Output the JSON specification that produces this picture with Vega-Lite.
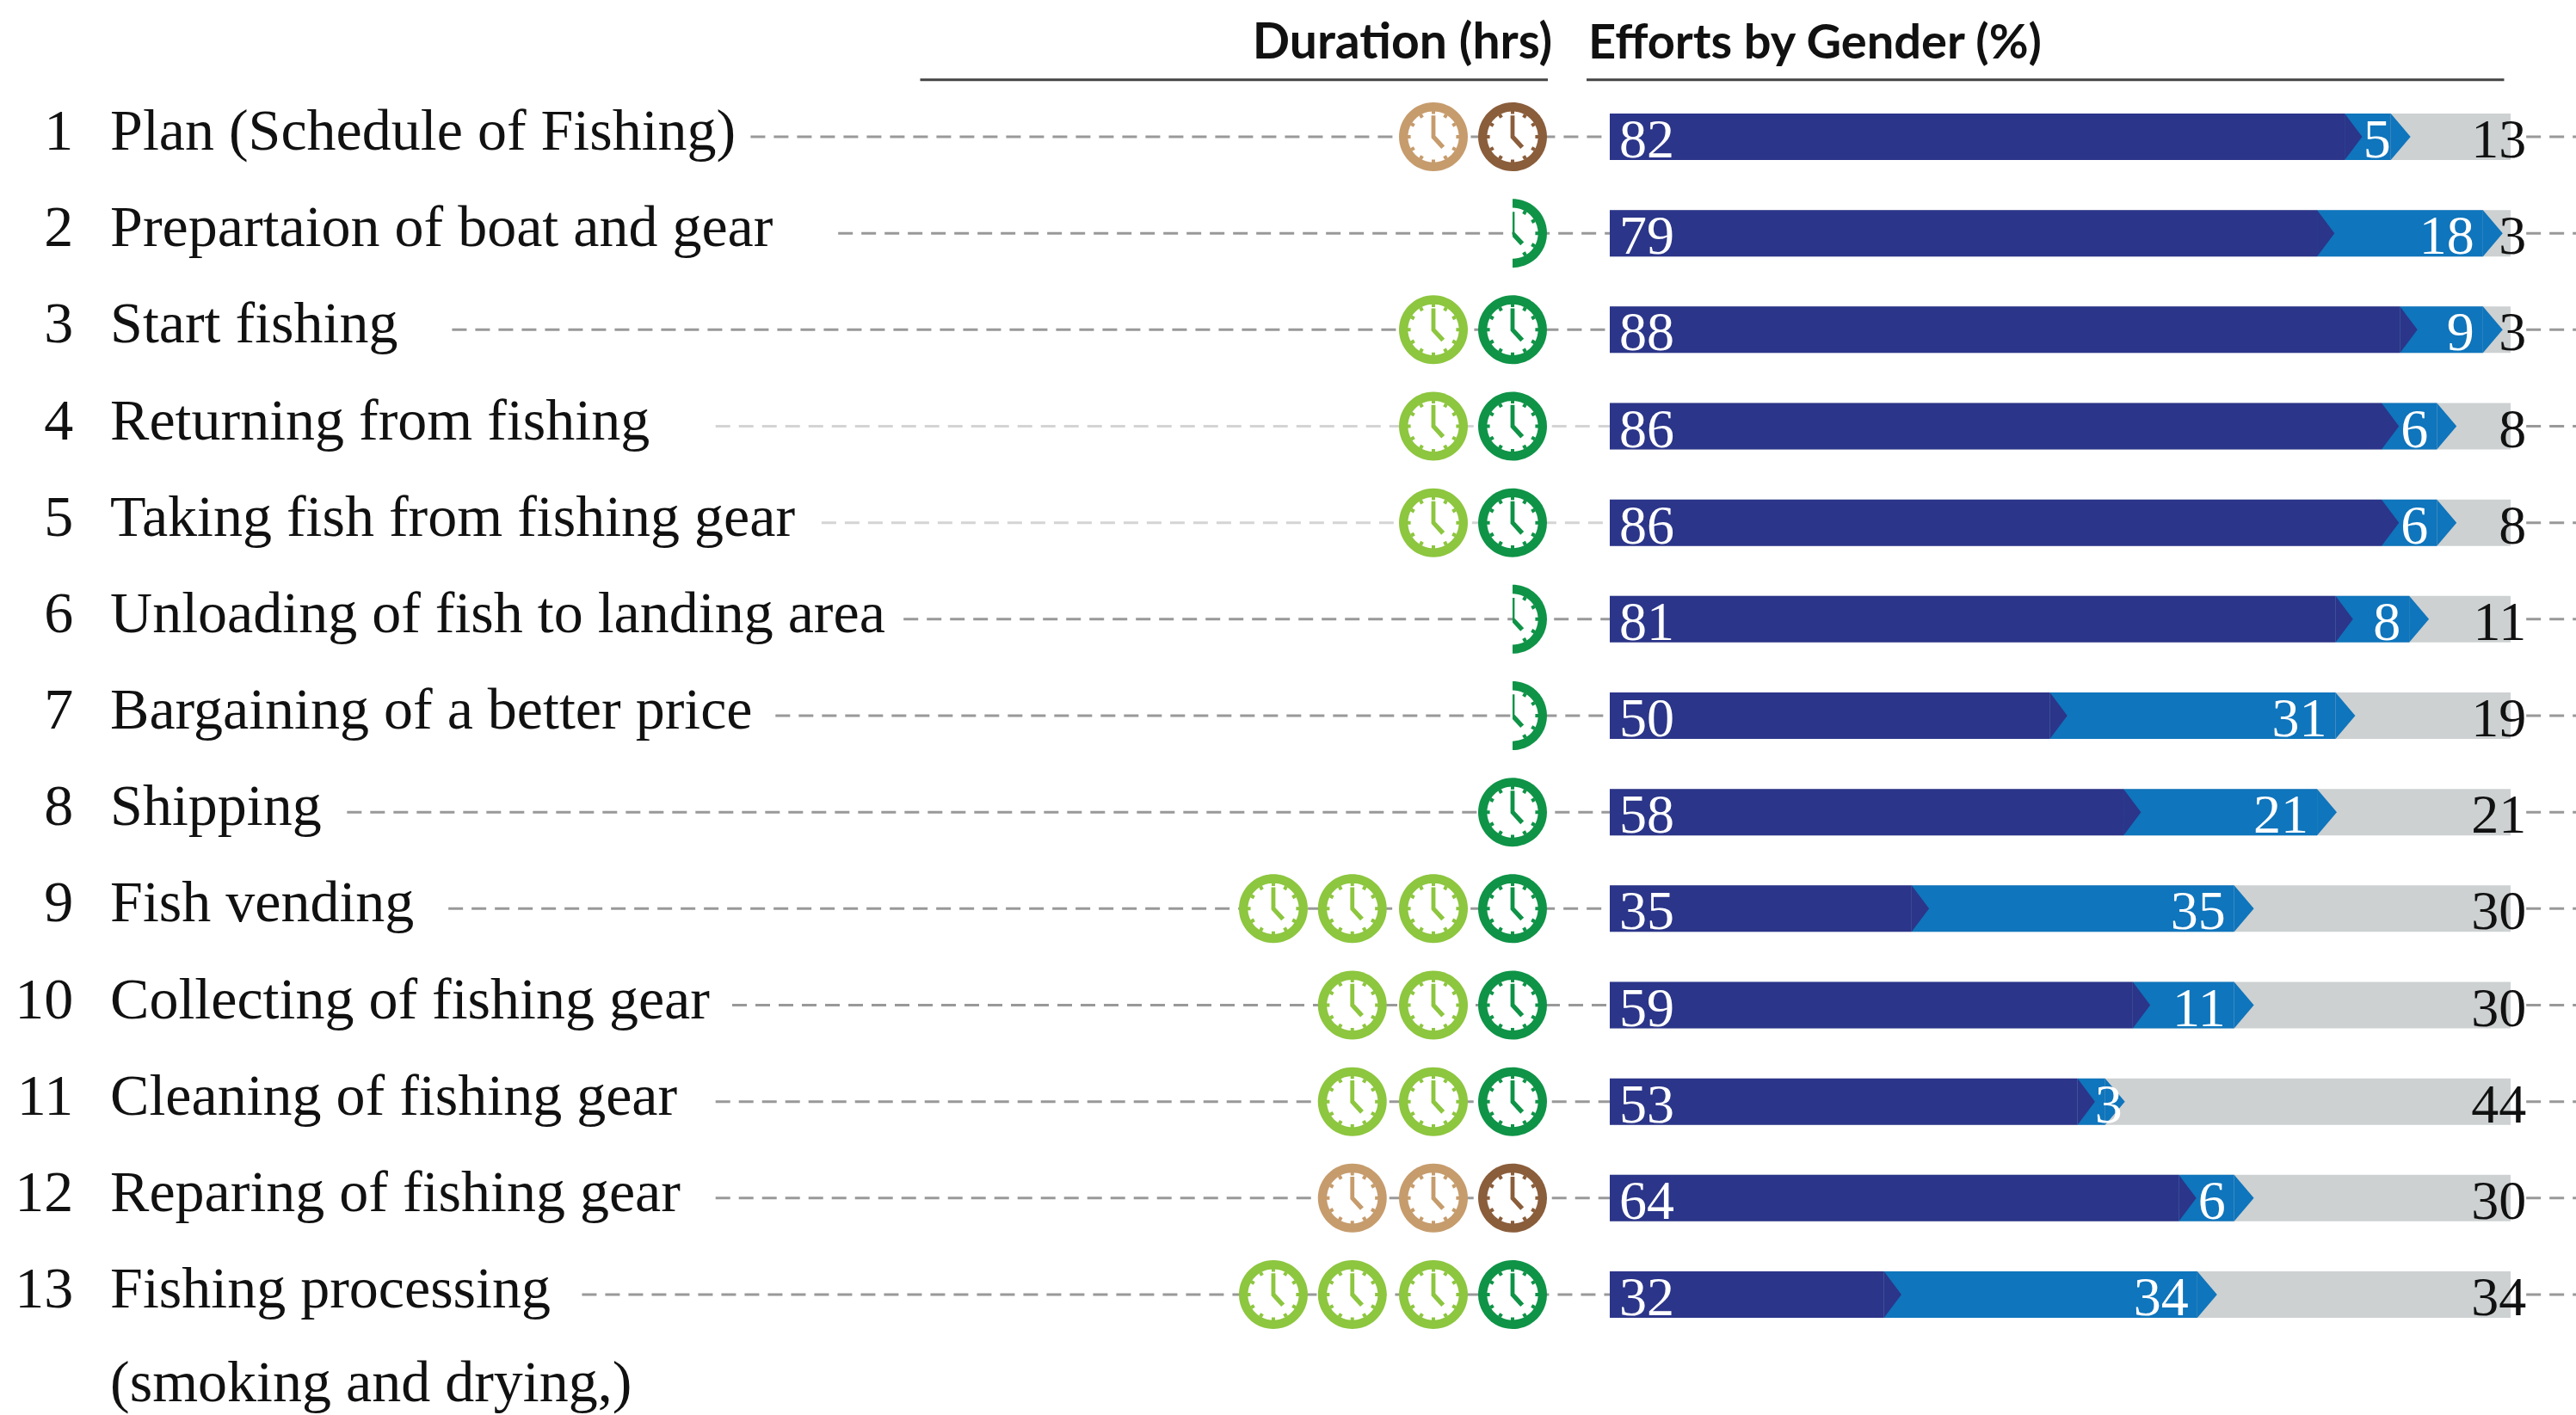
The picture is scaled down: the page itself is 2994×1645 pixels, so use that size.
{"$schema":"https://vega.github.io/schema/vega-lite/v6.json","width":2994,"height":1645,"padding":0,"autosize":"none","background":"white","config":{"view":{"stroke":null}},
"datasets":{
"rows":[
{"row":1,"num":"1","label":"Plan (Schedule of Fishing)","lead":-91.0,"start":2.24,"g1":82,"g2":5,"g3":13,"g2end":87,"total":100,"tail":101.7,"edge":107.2},
{"row":2,"num":"2","label":"Prepartaion of boat and gear","lead":-81.5,"start":2.24,"g1":79,"g2":18,"g3":3,"g2end":97,"total":100,"tail":101.7,"edge":107.2},
{"row":3,"num":"3","label":"Start fishing","lead":-123.4,"start":2.24,"g1":88,"g2":9,"g3":3,"g2end":97,"total":100,"tail":101.7,"edge":107.2},
{"row":4,"num":"4","label":"Returning from fishing","lead":-94.8,"start":2.24,"g1":86,"g2":6,"g3":8,"g2end":92,"total":100,"tail":101.7,"edge":107.2},
{"row":5,"num":"5","label":"Taking fish from fishing gear","lead":-83.3,"start":2.24,"g1":86,"g2":6,"g3":8,"g2end":92,"total":100,"tail":101.7,"edge":107.2},
{"row":6,"num":"6","label":"Unloading of fish to landing area","lead":-74.4,"start":2.24,"g1":81,"g2":8,"g3":11,"g2end":89,"total":100,"tail":101.7,"edge":107.2},
{"row":7,"num":"7","label":"Bargaining of a better price","lead":-88.3,"start":2.24,"g1":50,"g2":31,"g3":19,"g2end":81,"total":100,"tail":101.7,"edge":107.2},
{"row":8,"num":"8","label":"Shipping","lead":-134.8,"start":2.24,"g1":58,"g2":21,"g3":21,"g2end":79,"total":100,"tail":101.7,"edge":107.2},
{"row":9,"num":"9","label":"Fish vending","lead":-123.8,"start":2.24,"g1":35,"g2":35,"g3":30,"g2end":70,"total":100,"tail":101.7,"edge":107.2},
{"row":10,"num":"10","label":"Collecting of fishing gear","lead":-93.0,"start":2.24,"g1":59,"g2":11,"g3":30,"g2end":70,"total":100,"tail":101.7,"edge":107.2},
{"row":11,"num":"11","label":"Cleaning of fishing gear","lead":-94.8,"start":2.24,"g1":53,"g2":3,"g3":44,"g2end":56,"total":100,"tail":101.7,"edge":107.2},
{"row":12,"num":"12","label":"Reparing of fishing gear","lead":-94.8,"start":2.24,"g1":64,"g2":6,"g3":30,"g2end":70,"total":100,"tail":101.7,"edge":107.2},
{"row":13,"num":"13","label":"Fishing processing","lead":-109.3,"start":2.24,"g1":32,"g2":34,"g3":34,"g2end":66,"total":100,"tail":101.7,"edge":107.2}
],
"clocks":[
{"row":1,"slot":-8.31,"kind":"brown-dark","part":"full"},{"row":1,"slot":-16.9,"kind":"brown-light","part":"full"},
{"row":2,"slot":-8.31,"kind":"green-dark","part":"half"},
{"row":3,"slot":-8.31,"kind":"green-dark","part":"full"},{"row":3,"slot":-16.9,"kind":"green-light","part":"full"},
{"row":4,"slot":-8.31,"kind":"green-dark","part":"full"},{"row":4,"slot":-16.9,"kind":"green-light","part":"full"},
{"row":5,"slot":-8.31,"kind":"green-dark","part":"full"},{"row":5,"slot":-16.9,"kind":"green-light","part":"full"},
{"row":6,"slot":-8.31,"kind":"green-dark","part":"half"},
{"row":7,"slot":-8.31,"kind":"green-dark","part":"half"},
{"row":8,"slot":-8.31,"kind":"green-dark","part":"full"},
{"row":9,"slot":-8.31,"kind":"green-dark","part":"full"},{"row":9,"slot":-16.9,"kind":"green-light","part":"full"},{"row":9,"slot":-25.7,"kind":"green-light","part":"full"},{"row":9,"slot":-34.27,"kind":"green-light","part":"full"},
{"row":10,"slot":-8.31,"kind":"green-dark","part":"full"},{"row":10,"slot":-16.9,"kind":"green-light","part":"full"},{"row":10,"slot":-25.7,"kind":"green-light","part":"full"},
{"row":11,"slot":-8.31,"kind":"green-dark","part":"full"},{"row":11,"slot":-16.9,"kind":"green-light","part":"full"},{"row":11,"slot":-25.7,"kind":"green-light","part":"full"},
{"row":12,"slot":-8.31,"kind":"brown-dark","part":"full"},{"row":12,"slot":-16.9,"kind":"brown-light","part":"full"},{"row":12,"slot":-25.7,"kind":"brown-light","part":"full"},
{"row":13,"slot":-8.31,"kind":"green-dark","part":"full"},{"row":13,"slot":-16.9,"kind":"green-light","part":"full"},{"row":13,"slot":-25.7,"kind":"green-light","part":"full"},{"row":13,"slot":-34.27,"kind":"green-light","part":"full"}
]},
"encoding":{"y":{"field":"row","type":"quantitative","axis":null,"scale":{"domain":[-0.4175,14.248],"reverse":true,"nice":false,"zero":false,"padding":0}}},
"layer":[
{"data":{"name":"rows"},"transform":[{"filter":"datum.row!=4 && datum.row!=5"}],"mark":{"type":"rule","color":"#999999","strokeWidth":3,"strokeDash":[17,10]},
 "encoding":{"x":{"field":"lead","type":"quantitative","axis":null,"scale":{"domain":[-172.46,107.1],"nice":false,"zero":false,"padding":0}},"x2":{"field":"start"}}},
{"data":{"name":"rows"},"transform":[{"filter":"datum.row==4 || datum.row==5"}],"mark":{"type":"rule","color":"#D4D4D4","strokeWidth":3,"strokeDash":[17,10]},
 "encoding":{"x":{"field":"lead","type":"quantitative"},"x2":{"field":"start"}}},
{"data":{"name":"rows"},"mark":{"type":"rule","color":"#999999","strokeWidth":3,"strokeDash":[17,10]},
 "encoding":{"x":{"field":"tail","type":"quantitative"},"x2":{"field":"edge"}}},
{"data":{"name":"rows"},"mark":{"type":"bar","orient":"horizontal","size":54,"color":"#CDD1D2"},
 "encoding":{"x":{"field":"start","type":"quantitative"},"x2":{"field":"total"}}},
{"data":{"name":"rows"},"mark":{"type":"bar","orient":"horizontal","size":54,"color":"#0F75BC"},
 "encoding":{"x":{"field":"g1","type":"quantitative"},"x2":{"field":"g2end"}}},
{"data":{"name":"rows"},"mark":{"type":"point","filled":true,"opacity":1,"strokeWidth":0,"size":2916,"color":"#0F75BC","shape":"M0,-1L0.85,0L0,1Z"},
 "encoding":{"x":{"field":"g2end","type":"quantitative"}}},
{"data":{"name":"rows"},"mark":{"type":"bar","orient":"horizontal","size":54,"color":"#2B3589"},
 "encoding":{"x":{"field":"start","type":"quantitative"},"x2":{"field":"g1"}}},
{"data":{"name":"rows"},"mark":{"type":"point","filled":true,"opacity":1,"strokeWidth":0,"size":2916,"color":"#2B3589","shape":"M0,-1L0.75,0L0,1Z"},
 "encoding":{"x":{"field":"g1","type":"quantitative"}}},
{"data":{"name":"rows"},"mark":{"type":"text","font":"Liberation Serif","fontSize":64,"color":"white","align":"left","baseline":"alphabetic","dy":24},
 "encoding":{"x":{"datum":3.27,"type":"quantitative"},"text":{"field":"g1","type":"nominal"}}},
{"data":{"name":"rows"},"transform":[{"filter":"datum.row!=1 && datum.row!=11"}],"mark":{"type":"text","font":"Liberation Serif","fontSize":64,"color":"white","align":"right","baseline":"alphabetic","dy":24,"dx":-10},
 "encoding":{"x":{"field":"g2end","type":"quantitative"},"text":{"field":"g2","type":"nominal"}}},
{"data":{"name":"rows"},"transform":[{"filter":"datum.row==1"}],"mark":{"type":"text","font":"Liberation Serif","fontSize":64,"color":"white","align":"right","baseline":"alphabetic","dy":24,"dx":0},
 "encoding":{"x":{"field":"g2end","type":"quantitative"},"text":{"field":"g2","type":"nominal"}}},
{"data":{"name":"rows"},"transform":[{"filter":"datum.row==11"}],"mark":{"type":"text","font":"Liberation Serif","fontSize":64,"color":"white","align":"right","baseline":"alphabetic","dy":24,"dx":20},
 "encoding":{"x":{"field":"g2end","type":"quantitative"},"text":{"field":"g2","type":"nominal"}}},
{"data":{"name":"rows"},"mark":{"type":"text","font":"Liberation Serif","fontSize":64,"color":"#111111","align":"right","baseline":"alphabetic","dy":24},
 "encoding":{"x":{"field":"tail","type":"quantitative"},"text":{"field":"g3","type":"nominal"}}},
{"data":{"name":"rows"},"mark":{"type":"text","font":"Liberation Serif","fontSize":68,"color":"#111111","align":"right","baseline":"alphabetic","dy":15},
 "encoding":{"x":{"datum":-164.5,"type":"quantitative"},"text":{"field":"num","type":"nominal"}}},
{"data":{"name":"rows"},"mark":{"type":"text","font":"Liberation Serif","fontSize":68,"color":"#111111","align":"left","baseline":"alphabetic","dy":15},
 "encoding":{"x":{"datum":-160.5,"type":"quantitative"},"text":{"field":"label","type":"nominal"}}},
{"data":{"values":[{"row":14,"label":"(smoking and drying,)"}]},"mark":{"type":"text","font":"Liberation Serif","fontSize":68,"color":"#111111","align":"left","baseline":"alphabetic","dy":12},
 "encoding":{"x":{"datum":-160.5,"type":"quantitative"},"text":{"field":"label","type":"nominal"}}},
{"data":{"values":[{"row":0.41,"from":-72.6,"to":-4.48},{"row":0.41,"from":-0.28,"to":99.3}]},"mark":{"type":"rule","color":"#444444","strokeWidth":3},
 "encoding":{"x":{"field":"from","type":"quantitative"},"x2":{"field":"to"}}},
{"data":{"values":[{"row":0.189,"label":"Duration (hrs)"}]},"mark":{"type":"text","font":"Lato","fontWeight":"bold","fontSize":57,"color":"#111111","align":"right","baseline":"alphabetic"},
 "encoding":{"x":{"datum":-4.0,"type":"quantitative"},"text":{"field":"label","type":"nominal"}}},
{"data":{"values":[{"row":0.189,"label":"Efforts by Gender (%)"}]},"mark":{"type":"text","font":"Lato","fontWeight":"bold","fontSize":56,"color":"#111111","align":"left","baseline":"alphabetic"},
 "encoding":{"x":{"datum":-0.09,"type":"quantitative"},"text":{"field":"label","type":"nominal"}}},
{"data":{"name":"clocks"},"mark":{"type":"point","filled":true,"opacity":1,"strokeWidth":0,"size":6400},
 "encoding":{"x":{"field":"slot","type":"quantitative"},
 "color":{"field":"kind","type":"nominal","legend":null,"scale":{"domain":["brown-dark","brown-light","green-dark","green-light"],"range":["#8A5D3B","#C69C6D","#0F9347","#8DC63F"]}},
 "shape":{"field":"part","type":"nominal","legend":null,"scale":{"domain":["full","half"],"range":["M0,-1A1,1 0 1 1 0,1A1,1 0 1 1 0,-1Z","M0,-1A1,1 0 0 1 0,1Z"]}}}},
{"data":{"name":"clocks"},"mark":{"type":"point","filled":true,"opacity":1,"strokeWidth":0,"size":3510,"color":"white"},
 "encoding":{"x":{"field":"slot","type":"quantitative"},
 "shape":{"field":"part","type":"nominal","legend":null}}},
{"data":{"name":"clocks"},"transform":[{"filter":"datum.part=='full'"}],"mark":{"type":"point","filled":true,"opacity":1,"strokeWidth":0,"size":6400,"shape":"M-0.05,-0.66L-0.05,-0.76L0.05,-0.76L0.05,-0.66ZM0.28,-0.58L0.33,-0.67L0.42,-0.62L0.37,-0.53ZM0.53,-0.37L0.62,-0.42L0.67,-0.33L0.58,-0.28ZM0.66,-0.05L0.76,-0.05L0.76,0.05L0.66,0.05ZM0.58,0.28L0.67,0.33L0.62,0.42L0.53,0.37ZM0.37,0.53L0.42,0.62L0.33,0.67L0.28,0.58ZM0.05,0.66L0.05,0.76L-0.05,0.76L-0.05,0.66ZM-0.28,0.58L-0.33,0.67L-0.42,0.62L-0.37,0.53ZM-0.53,0.37L-0.62,0.42L-0.67,0.33L-0.58,0.28ZM-0.66,0.05L-0.76,0.05L-0.76,-0.05L-0.66,-0.05ZM-0.58,-0.28L-0.67,-0.33L-0.62,-0.42L-0.53,-0.37ZM-0.37,-0.53L-0.42,-0.62L-0.33,-0.67L-0.28,-0.58ZM-0.06,-0.62L0.06,-0.62L0.06,-0.03L0.33,0.26L0.23,0.35L-0.06,0.03Z"},
 "encoding":{"x":{"field":"slot","type":"quantitative"},"color":{"field":"kind","type":"nominal","legend":null}}},
{"data":{"name":"clocks"},"transform":[{"filter":"datum.part=='half'"}],"mark":{"type":"point","filled":true,"opacity":1,"strokeWidth":0,"size":6400,"shape":"M0.28,-0.58L0.33,-0.67L0.42,-0.62L0.37,-0.53ZM0.53,-0.37L0.62,-0.42L0.67,-0.33L0.58,-0.28ZM0.66,-0.05L0.76,-0.05L0.76,0.05L0.66,0.05ZM0.58,0.28L0.67,0.33L0.62,0.42L0.53,0.37ZM0.37,0.53L0.42,0.62L0.33,0.67L0.28,0.58ZM0,-0.62L0.06,-0.62L0.06,-0.03L0.33,0.26L0.23,0.35L0,0.1Z"},
 "encoding":{"x":{"field":"slot","type":"quantitative"},"color":{"field":"kind","type":"nominal","legend":null}}}
]}
